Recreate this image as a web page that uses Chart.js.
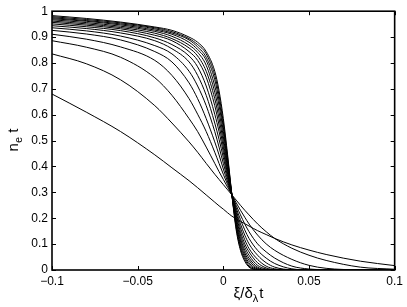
<!DOCTYPE html>
<html>
<head>
<meta charset="utf-8">
<script src="https://cdn.jsdelivr.net/npm/chart.js@4"></script>
<style>
  html, body { margin: 0; padding: 0; background: #fff; }
  #wrap { width: 407px; height: 307px; }
</style>
</head>
<body>
<div id="wrap"><canvas id="myChart" width="407" height="307"></canvas></div>
<script>
// shared x positions (xi / delta_lambda t)
const xs = [-0.1, -0.08, -0.06, -0.04, -0.03, -0.02, -0.015, -0.01, -0.005, -0.0025, 0, 0.0025, 0.005,
            0.0075, 0.01, 0.0125, 0.015, 0.02, 0.025, 0.03, 0.04, 0.05, 0.06, 0.08, 0.1];

// n_e t for each profile, widest first
const c1  = [0.68, 0.61, 0.535, 0.445, 0.395, 0.345, 0.318, 0.29, 0.262, 0.248, 0.235, 0.221, 0.208, 0.198, 0.188, 0.179, 0.17, 0.152, 0.137, 0.122, 0.097, 0.077, 0.06, 0.034, 0.017];
const c2  = [0.835, 0.797, 0.735, 0.635, 0.568, 0.495, 0.455, 0.412, 0.37, 0.35, 0.33, 0.31, 0.29, 0.27, 0.25, 0.231, 0.213, 0.178, 0.148, 0.122, 0.084, 0.057, 0.037, 0.011, 0.003];
const c3  = [0.886, 0.861, 0.822, 0.743, 0.675, 0.585, 0.535, 0.475, 0.412, 0.38, 0.35, 0.32, 0.29, 0.26, 0.231, 0.204, 0.178, 0.135, 0.101, 0.076, 0.041, 0.018, 0.0065, 0.0007, 0];
const c4  = [0.911, 0.892, 0.862, 0.81, 0.752, 0.662, 0.602, 0.535, 0.455, 0.412, 0.37, 0.33, 0.29, 0.25, 0.213, 0.178, 0.148, 0.101, 0.07, 0.046, 0.015, 0.0038, 0.001, 0, 0];
const c5  = [0.926, 0.912, 0.889, 0.844, 0.804, 0.723, 0.662, 0.585, 0.495, 0.445, 0.39, 0.34, 0.29, 0.24, 0.195, 0.155, 0.122, 0.076, 0.046, 0.025, 0.0045, 0.0007, 0, 0, 0];
const c6  = [0.936, 0.924, 0.904, 0.867, 0.835, 0.768, 0.711, 0.635, 0.535, 0.475, 0.412, 0.35, 0.29, 0.231, 0.178, 0.135, 0.101, 0.057, 0.028, 0.011, 0.001, 0, 0, 0, 0];
const c7  = [0.944, 0.933, 0.916, 0.886, 0.855, 0.804, 0.752, 0.675, 0.568, 0.505, 0.434, 0.36, 0.29, 0.222, 0.163, 0.117, 0.083, 0.041, 0.015, 0.0045, 0, 0, 0, 0, 0];
const c8  = [0.951, 0.94, 0.925, 0.897, 0.871, 0.827, 0.785, 0.711, 0.602, 0.535, 0.455, 0.37, 0.29, 0.213, 0.148, 0.101, 0.07, 0.028, 0.008, 0.0015, 0, 0, 0, 0, 0];
const c9  = [0.957, 0.946, 0.932, 0.907, 0.886, 0.844, 0.81, 0.745, 0.635, 0.56, 0.475, 0.38, 0.29, 0.204, 0.135, 0.088, 0.057, 0.018, 0.0038, 0.0007, 0, 0, 0, 0, 0];
const c10 = [0.962, 0.951, 0.937, 0.915, 0.894, 0.858, 0.827, 0.768, 0.662, 0.585, 0.495, 0.39, 0.29, 0.195, 0.122, 0.076, 0.046, 0.011, 0.0015, 0, 0, 0, 0, 0, 0];
const c11 = [0.967, 0.956, 0.942, 0.922, 0.903, 0.869, 0.841, 0.791, 0.687, 0.61, 0.515, 0.40, 0.29, 0.187, 0.112, 0.066, 0.037, 0.0065, 0.001, 0, 0, 0, 0, 0, 0];
const c12 = [0.971, 0.961, 0.947, 0.927, 0.911, 0.88, 0.852, 0.81, 0.711, 0.635, 0.535, 0.412, 0.29, 0.178, 0.101, 0.057, 0.028, 0.0038, 0, 0, 0, 0, 0, 0, 0];
const c13 = [0.975, 0.964, 0.951, 0.932, 0.916, 0.889, 0.862, 0.822, 0.735, 0.655, 0.552, 0.423, 0.29, 0.17, 0.092, 0.049, 0.021, 0.002, 0, 0, 0, 0, 0, 0, 0];
const c14 = [0.979, 0.968, 0.955, 0.936, 0.921, 0.894, 0.871, 0.835, 0.752, 0.675, 0.568, 0.434, 0.29, 0.163, 0.083, 0.041, 0.015, 0.001, 0, 0, 0, 0, 0, 0, 0];
const c15 = [0.983, 0.972, 0.958, 0.939, 0.926, 0.90, 0.88, 0.844, 0.768, 0.693, 0.585, 0.445, 0.29, 0.155, 0.076, 0.034, 0.011, 0.0007, 0, 0, 0, 0, 0, 0, 0];
const curves = [c1, c2, c3, c4, c5, c6, c7, c8, c9, c10, c11, c12, c13, c14, c15];

const xTicks = [-0.1, -0.05, 0, 0.05, 0.1];
const xTickLabels = ['\u22120.1', '\u22120.05', '0', '0.05', '0.1'];
const yTicks = [0, 0.1, 0.2, 0.3, 0.4, 0.5, 0.6, 0.7, 0.8, 0.9, 1];
const yTickLabels = ['0', '0.1', '0.2', '0.3', '0.4', '0.5', '0.6', '0.7', '0.8', '0.9', '1'];

const FONT = "'Liberation Sans', Arial, Helvetica, sans-serif";
Chart.defaults.font.family = FONT;
Chart.defaults.color = '#000';

// box, inward ticks and the two axis labels (with subscripts)
const frame = {
  id: 'frame',
  afterDraw(chart) {
    const { ctx, chartArea: a, scales: { x, y } } = chart;
    ctx.save();
    ctx.strokeStyle = '#000';
    ctx.lineWidth = 1;
    xTicks.forEach((v) => {
      const px = Math.round(x.getPixelForValue(v)) + 0.5;
      ctx.beginPath();
      ctx.moveTo(px, a.bottom); ctx.lineTo(px, a.bottom - 4);
      ctx.moveTo(px, a.top); ctx.lineTo(px, a.top + 4);
      ctx.stroke();
    });
    yTicks.forEach((v) => {
      const py = Math.round(y.getPixelForValue(v)) + 0.5;
      ctx.beginPath();
      ctx.moveTo(a.left, py); ctx.lineTo(a.left + 4, py);
      ctx.moveTo(a.right, py); ctx.lineTo(a.right - 4, py);
      ctx.stroke();
    });
    ctx.lineWidth = 1.6;
    ctx.strokeRect(a.left, a.top, a.right - a.left, a.bottom - a.top);

    ctx.fillStyle = '#000';
    ctx.textBaseline = 'alphabetic';
    ctx.textAlign = 'left';
    const big = '15px ' + FONT, small = '11px ' + FONT;

    // x label: xi/delta_lambda t
    ctx.font = big;
    const w1 = ctx.measureText('\u03be/\u03b4').width;
    const w3 = ctx.measureText('t').width;
    ctx.font = small;
    const w2 = ctx.measureText('\u03bb').width;
    let sx = 248 - (w1 + w2 + w3) / 2;
    ctx.font = big; ctx.fillText('\u03be/\u03b4', sx, 298);
    ctx.font = small; ctx.fillText('\u03bb', sx + w1, 302);
    ctx.font = big; ctx.fillText('t', sx + w1 + w2 + 1, 298);

    // y label: n_e t
    ctx.translate(18, 140);
    ctx.rotate(-Math.PI / 2);
    ctx.font = big;
    const v1 = ctx.measureText('n').width;
    const v3 = ctx.measureText(' t').width;
    ctx.font = small;
    const v2 = ctx.measureText('e').width;
    let sy = -(v1 + v2 + v3) / 2;
    ctx.font = big; ctx.fillText('n', sy, 0);
    ctx.font = small; ctx.fillText('e', sy + v1, 4);
    ctx.font = big; ctx.fillText(' t', sy + v1 + v2, 0);
    ctx.restore();
  }
};

const ctx = document.getElementById('myChart');

new Chart(ctx, {
  type: 'scatter',
  data: {
    datasets: curves.map((ys) => ({
      data: xs.map((x, i) => ({ x: x, y: ys[i] })),
      showLine: true,
      borderColor: '#000',
      borderWidth: 1,
      pointRadius: 0,
      cubicInterpolationMode: 'monotone',
      fill: false
    }))
  },
  options: {
    responsive: false,
    animation: false,
    devicePixelRatio: 1,
    layout: { padding: { left: 0, right: 8, top: 10, bottom: 0 } },
    plugins: { legend: { display: false }, tooltip: { enabled: false } },
    scales: {
      x: {
        type: 'linear',
        min: -0.1,
        max: 0.1,
        afterFit: (s) => { s.height = 37; },
        afterBuildTicks: (s) => { s.ticks = xTicks.map((v) => ({ value: v })); },
        grid: { display: false, drawTicks: false },
        border: { display: false },
        ticks: {
          autoSkip: false,
          maxRotation: 0,
          padding: 4,
          font: { size: 12 },
          callback: (v) => xTickLabels[xTicks.indexOf(v)]
        }
      },
      y: {
        type: 'linear',
        min: 0,
        max: 1,
        afterFit: (s) => { s.width = 52; },
        afterBuildTicks: (s) => { s.ticks = yTicks.map((v) => ({ value: v })); },
        grid: { display: false, drawTicks: false },
        border: { display: false },
        ticks: {
          autoSkip: false,
          padding: 4,
          font: { size: 12 },
          callback: (v) => yTickLabels[yTicks.indexOf(v)]
        }
      }
    }
  },
  plugins: [frame]
});
</script>
</body>
</html>
